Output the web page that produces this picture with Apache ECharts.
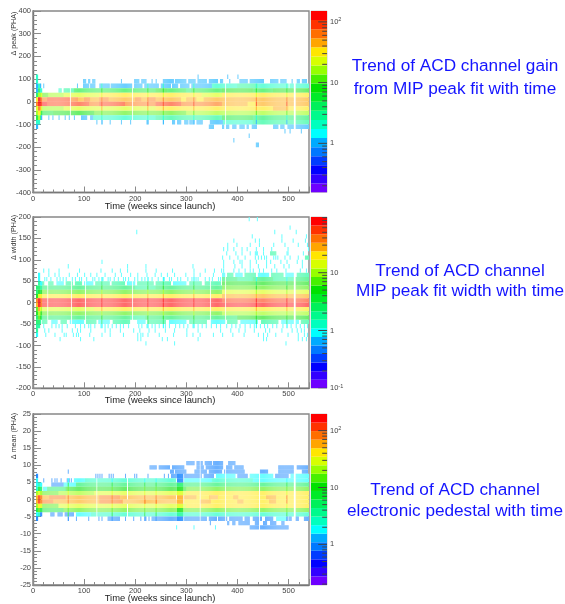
<!DOCTYPE html>
<html>
<head>
<meta charset="utf-8">
<style>html,body{margin:0;padding:0;background:#fff}#c{width:565px;height:604px}</style>
<script src="https://cdn.jsdelivr.net/npm/echarts@6/dist/echarts.min.js"></script>
</head>
<body>
<div id="c"></div>
<script>
// ---------- Axis titles and annotations ----------
const xTitle = 'Time (weeks since launch)';
const yTitles = ['Δ peak (PHA)', 'Δ width (PHA)', 'Δ mean (PHA)'];
const notes = [['Trend of ACD channel gain', 'from MIP peak fit with time'],
               ['Trend of ACD channel', 'MIP peak fit width with time'],
               ['Trend of ACD channel', 'electronic pedestal with time']];
const weekMax = 540;
const palette = ['#6e00ff','#3200ff','#0000ff','#003cff','#0078ff','#00aaff','#00ffff','#00ffbe','#00fa8c','#00f05a',
                 '#00eb28','#00e100','#46f000','#96ff00','#d7ff00','#ffe600','#ffa500','#ff6e00','#ff3200','#ff0000'];

// ---------- Panel 1: delta peak, bins of 20 PHA ----------
// [binLow, [weekFrom, weekTo, count], ...]
const peakRuns = [
 [80,[98,104,1],[108,112,1],[116,122,1],[194,196,1],[198,208,1],[212,222,1],[254,276,1],[278,300,1],[304,318,1],[322,340,1],[344,362,1],[366,372,1],[404,420,1],[424,452,1],[464,480,1],[484,496,1],[516,522,1],[526,536,1]],
 [60,[86,88,1],[98,110,1],[112,122,1],[130,150,1],[152,194,1],[198,214,1],[218,246,1],[250,270,1],[272,284,1],[288,306,1],[310,350,1],[350,400,2],[400,440,3],[440,500,2],[502,510,2],[514,540,2]],
 [40,[50,56,2],[60,80,3],[80,120,6],[120,240,6],[240,262,8],[262,300,6],[300,310,4],[310,370,6],[370,430,8],[430,470,6],[470,540,8]],
 [20,[18,30,11],[30,60,16],[60,130,22],[130,240,32],[240,300,28],[300,330,32],[330,370,22],[370,540,32]],
 [0,[16,28,62],[28,72,90],[72,88,62],[88,100,45],[100,112,62],[112,130,45],[130,148,62],[148,200,45],[200,212,62],[212,224,45],[224,240,62],[240,290,45],[290,300,32],[300,320,45],[320,334,32],[334,540,45]],
 [-20,[16,28,120],[28,110,90],[110,130,62],[130,180,90],[180,240,62],[240,290,90],[290,370,62],[370,420,45],[420,436,32],[436,540,45]],
 [-40,[18,60,16],[60,240,22],[240,370,32],[370,440,38],[440,470,32],[470,500,45],[500,540,32]],
 [-60,[18,40,6],[40,120,8],[120,210,11],[210,300,11],[300,370,16],[370,540,16]],
 [-80,[94,106,1],[112,118,1],[118,170,2],[170,240,2],[240,300,3],[300,370,3],[370,430,6],[430,540,4]],
 [-100,[272,278,1],[282,290,1],[296,304,1],[306,316,1],[320,332,1],[346,372,1],[372,430,2],[430,500,3],[500,540,3]],
 [-120,[344,354,1],[370,374,1],[378,384,1],[390,398,1],[404,414,1],[418,422,1],[428,438,1],[470,480,1],[484,492,1],[498,510,1],[514,540,1]]
];
// [binLow, count, [weeks]]
const peakSingles = [
 [100,1,[322,380,400]], [80,1,[172,232,240,384,506]], [60,1,[20]],
 [-80,1,[30,38,50,62,70,80]], [-100,1,[124,150,172,190,222]],
 [-140,1,[492,502,524]], [-160,1,[422]], [-180,1,[392]], [-200,1,[436,438,440]]
];
const peakStripe = [[60,2],[40,8],[20,22],[0,62],[-20,90],[-40,45],[-60,11],[-80,2],[-100,1]];
const peakEarlyA = [[100,2],[80,2],[60,1],[40,1],[20,4],[0,32],[-20,62],[-40,22],[-60,16],[-80,6],[-100,2],[-120,1]];
const peakEarlyB = [[60,2],[40,4],[20,16],[0,110],[-20,130],[-40,70],[-60,32],[-80,16],[-100,2]];
const peakEarlyC = [[60,1],[40,2],[20,16],[0,90],[-20,120],[-40,45],[-60,16],[-80,4]];
const peakEarlyD = [[40,2],[20,22],[0,62],[-20,90],[-40,22],[-60,6],[-80,1]];
const peakStrong = [[[134,224,254,314,436,496],peakStripe],[[6,8],peakEarlyA],[[10,12],peakEarlyB],[[14],peakEarlyC],[[16],peakEarlyD]];
const peakGaps = [72,194,376,510,512];

// ---------- Panel 2: delta width, bins of 10 PHA ----------
const widthRuns = [
 [100,[532,540,2]],
 [60,[370,376,1],[380,392,2],[396,410,1],[414,436,2],[440,462,1],[466,490,2],[494,512,1],[516,540,2]],
 [50,[370,400,3],[400,430,2],[430,470,3],[470,510,2],[510,540,3]],
 [40,[18,22,2],[28,40,2],[46,60,1],[64,78,2],[82,96,2],[100,118,1],[122,150,2],[154,180,2],[184,200,1],[204,236,2],[240,270,2],[274,300,1],[306,330,2],[336,368,2],[370,540,5]],
 [30,[16,120,3],[120,200,3],[200,240,2],[240,370,3],[370,540,7]],
 [20,[16,370,7],[370,540,14]],
 [10,[16,120,20],[120,370,20],[370,540,28]],
 [0,[16,370,75],[370,540,55]],
 [-10,[16,540,75]],
 [-20,[16,120,14],[120,540,20]],
 [-30,[16,370,7],[370,540,10]],
 [-40,[16,190,3],[190,220,2],[220,400,3],[400,540,5]],
 [-50,[18,30,2],[36,48,1],[54,66,2],[72,100,1],[104,124,2],[128,150,1],[156,190,2],[204,220,1],[226,260,2],[266,300,1],[306,340,2],[346,376,1],[380,400,2],[406,440,1],[446,480,2],[486,520,1],[524,540,2]]
];
const widthSingles = [
 [190,1,[422,438]], [170,1,[502]], [160,1,[202,472,514]], [150,1,[428,486,534]],
 [140,1,[392,434,442,486,508,532]], [130,1,[380,398,424,442,470,492,518,536]],
 [120,1,[372,380,392,408,418,436,450,466,498,538]], [110,1,[378,396,408,424,434,436,438,450,496,498,528]],
 [110,2,[464,466,468,470,472,474]], [100,1,[370,384,400,414,434,440,446,452,456,470,474,478,492,502,512,518]],
 [90,1,[134,372,392,404,408,424,436,456,464,484,496,516,526]],
 [80,1,[68,184,220,312,372,376,394,408,424,440,456,472,490,500,512,526]],
 [70,1,[20,30,50,90,132,154,170,184,220,240,272,314,336,354,368,372,392,402,414,424,430,442,450,466,476,494,510,522,534]],
 [60,1,[30,42,50,70,86,100,112,124,140,160,172,190,204,222,238,250,262,276,298,314,326,346,352]],
 [50,1,[22,26,34,46,52,58,64,76,82,90,94,104,116,120,128,136,146,150,158,166,176,180,186,198,204,212,218,224,232,244,256,266,270,282,288,302,310,318,322,336,344,350,362,366]],
 [-60,1,[20,28,36,44,50,56,66,74,82,92,100,108,112,120,132,140,146,154,162,170,176,186,206,212,222,232,238,246,258,266,278,286,294,302,312,322,330,338,348,358,366,378,388,396,404,414,424,432,444,452,458,468,476,488,496,504,514,522,530,536]],
 [-70,1,[22,30,56,74,76,86,92,112,140,150,170,196,208,226,238,258,276,300,322,346,366,386,402,414,432,454,462,486,506,516,524,530]],
 [-80,1,[24,42,60,64,78,84,88,110,134,150,176,204,210,214,224,246,274,300,312,326,352,370,390,412,440,450,458,474,498,518,530,536]],
 [-90,1,[52,92,118,204,210,252,262,322,450,456,518,526,534]],
 [-100,1,[220,276,494]]
];
const widthStripe = [[50,1],[40,3],[30,5],[20,10],[10,30],[0,80],[-10,80],[-20,28],[-30,10],[-40,5],[-50,3],[-60,1]];
const widthEarlyA = [[30,3],[20,3],[10,5],[0,38],[-10,28],[-20,7],[-30,5],[-40,3],[-50,3],[-60,2],[-70,2],[-80,1]];
const widthEarlyB = [[60,1],[50,1],[40,2],[30,3],[20,5],[10,14],[0,80],[-10,85],[-20,30],[-30,10],[-40,7],[-50,3],[-60,2]];
const widthEarlyC = [[40,1],[30,2],[20,4],[10,20],[0,55],[-10,55],[-20,14],[-30,7],[-40,5],[-50,2]];
const widthEarlyD = [[40,1],[30,2],[20,5],[10,14],[0,38],[-10,38],[-20,10],[-30,5],[-40,3]];
const widthStrong = [[[134,224,254,314,436,496],widthStripe],[[6,8],widthEarlyA],[[10,12],widthEarlyB],[[14],widthEarlyC],[[16],widthEarlyD]];
const widthGaps = [28,74,102,194,346,376,510,512];

// ---------- Panel 3: delta mean, bins of 1.25 PHA ----------
const meanRuns = [
 [10,[300,316,1],[320,332,1],[336,350,1],[352,372,1],[382,396,1]],
 [8.75,[228,242,1],[246,268,1],[272,296,1],[320,334,1],[338,372,1],[376,390,1],[394,412,1],[480,510,1],[516,538,1]],
 [7.5,[268,276,1],[278,300,1],[316,340,1],[344,370,1],[374,414,1],[444,460,1],[480,510,1],[526,538,1]],
 [6.25,[270,282,1],[296,330,1],[334,354,1],[358,396,2],[400,420,1],[424,470,2],[474,500,1],[504,540,2]],
 [5,[80,102,2],[102,160,3],[160,280,3],[296,350,2],[350,430,3],[430,540,2]],
 [3.75,[36,60,1],[60,84,2],[84,300,5],[300,540,5]],
 [2.5,[20,28,2],[28,64,5],[64,150,10],[150,300,10],[300,540,14]],
 [1.25,[18,50,14],[50,120,20],[120,300,28],[300,540,38]],
 [0,[18,32,55],[32,64,75],[64,130,55],[130,170,75],[170,210,55],[210,280,55],[296,320,55],[320,345,38],[345,362,55],[362,392,38],[392,402,55],[402,456,38],[456,476,55],[476,540,38]],
 [-1.25,[18,40,75],[40,130,55],[130,175,75],[175,280,55],[296,326,38],[326,348,55],[348,400,38],[400,412,55],[412,462,38],[462,476,55],[476,540,38]],
 [-2.5,[18,50,14],[50,150,28],[150,300,28],[300,540,38]],
 [-3.75,[18,60,7],[60,150,14],[150,540,14]],
 [-5,[34,42,1],[48,58,1],[62,80,1],[84,114,2],[114,300,3],[296,540,3]],
 [-6.25,[146,170,1],[232,282,1],[296,340,1],[344,360,1],[362,380,1],[384,410,1],[414,424,1],[430,448,1],[454,470,1],[476,496,2],[500,506,1],[512,520,1],[530,540,1]],
 [-7.5,[380,384,1],[390,396,1],[402,424,1],[434,444,1],[450,458,1],[464,476,1],[486,492,1]],
 [-8.75,[424,500,1]]
];
const meanSingles = [
 [7.5,1,[68]],
 [6.25,1,[122,126,130,134,148,152,156,180,184,198,202,224,256,264]],
 [5,1,[20,36,42,46,54,66,70,74]],
 [-6.25,1,[84,108,128,134,180,196,210,220,226]],
 [-7.5,1,[346]],
 [-8.75,2,[280,314,356]]
];
const meanStripe = [[5,2],[3.75,7],[2.5,14],[1.25,28],[0,75],[-1.25,75],[-2.5,28],[-3.75,14],[-5,7],[-6.25,1]];
const meanBlock = [[6.25,1],[5,1],[3.75,5],[2.5,10],[1.25,25],[0,55],[-1.25,55],[-2.5,25],[-3.75,10],[-5,4],[-6.25,1]];
const meanEarlyA = [[6.25,1],[5,2],[3.75,2],[2.5,3],[1.25,20],[0,55],[-1.25,55],[-2.5,20],[-3.75,7],[-5,2],[-6.25,1]];
const meanEarlyB = [[3.75,3],[2.5,7],[1.25,28],[0,105],[-1.25,105],[-2.5,38],[-3.75,14],[-5,3]];
const meanEarlyC = [[3.75,2],[2.5,5],[1.25,20],[0,75],[-1.25,75],[-2.5,28],[-3.75,7],[-5,1]];
const meanStrong = [[[68,154,218,240,496],meanStripe],[[282,284,286,288,290,292],meanBlock],[[6,8],meanEarlyA],[[10,12],meanEarlyB],[[14,16],meanEarlyC]];
const meanGaps = [124,184,326,376,442,510,512];

// ---------- Colour-bar ranges and tick decades ----------
const peakZRange = [0.155, 151], widthZRange = [0.1, 92], meanZRange = [0.193, 196];
const peakDecades = [0, 1, 2], widthDecades = [-1, 0, 1], meanDecades = [0, 1, 2];

// ---------- Panels ----------
const panels = [
 {runs:peakRuns, singles:peakSingles, strong:peakStrong, gaps:peakGaps, bin:20, range:[-400,400], major:100, z:peakZRange, dec:peakDecades, top:11, bottom:192.5, yTitleY:33.5, xTitleY:206},
 {runs:widthRuns, singles:widthSingles, strong:widthStrong, gaps:widthGaps, bin:10, range:[-200,200], major:50, z:widthZRange, dec:widthDecades, top:217, bottom:388.3, yTitleY:237.5, xTitleY:400.7},
 {runs:meanRuns, singles:meanSingles, strong:meanStrong, gaps:meanGaps, bin:1.25, range:[-25,25], major:5, z:meanZRange, dec:meanDecades, top:414, bottom:585, yTitleY:436, xTitleY:598.5}
];
const noteCentres = [[455,66,89],[460,271,291],[455,490,511]];

function buildCells(p){
  const m = new Map();
  const put = (w,y,z,s)=>{ m.set(w+'|'+y,[w,w+2,y,y+p.bin,z,s]); };
  p.runs.forEach(r=>{ const y=r[0]; r.slice(1).forEach(seg=>{ for(let w=seg[0];w<seg[1];w+=2) put(w,y,seg[2],0); }); });
  p.singles.forEach(s=>s[2].forEach(w=>put(w,s[0],s[1],0)));
  p.strong.forEach(c=>c[0].forEach(w=>c[1].forEach(e=>put(w,e[0],e[1],1))));
  return [...m.values()].filter(c=>p.gaps.indexOf(c[0])<0);
}
function mixWhite(hex,k){
  const n=parseInt(hex.slice(1),16), f=v=>Math.round(v+(255-v)*k);
  return 'rgb('+f(n>>16)+','+f((n>>8)&255)+','+f(n&255)+')';
}
function levelOf(z,r){
  const l=Math.floor(20*Math.log(z/r[0])/Math.log(r[1]/r[0]));
  return Math.max(0,Math.min(19,l));
}
function rectItem(api,fill){
  const a=api.coord([api.value(0),api.value(3)]), b=api.coord([api.value(1),api.value(2)]);
  return {type:'rect',shape:{x:a[0],y:a[1],width:b[0]-a[0],height:b[1]-a[1]},style:{fill:fill}};
}
const axisGrey='#8a8a8a', textGrey='#444', fontName='"Liberation Sans", Arial, sans-serif';
const grids=[],xAxes=[],yAxes=[],series=[],graphics=[];
panels.forEach((p,i)=>{
  const h=p.bottom-p.top;
  grids.push({left:33,top:p.top,width:276,height:h,show:true,borderColor:'#888',borderWidth:1.4,backgroundColor:'#fff'});
  xAxes.push({type:'value',gridIndex:grids.length-1,min:0,max:weekMax,interval:100,splitLine:{show:false},
    axisLine:{onZero:false,lineStyle:{color:'#777',width:1.4}},axisTick:{inside:true,length:6,lineStyle:{color:axisGrey}},
    minorTick:{show:true,splitNumber:5,length:3,lineStyle:{color:axisGrey}},
    axisLabel:{fontSize:7.5,color:textGrey,margin:2,fontFamily:fontName,showMaxLabel:false}});
  yAxes.push({type:'value',gridIndex:grids.length-1,min:p.range[0],max:p.range[1],interval:p.major,splitLine:{show:false},
    axisLine:{onZero:false,lineStyle:{color:'#777',width:1.4}},axisTick:{inside:true,length:8,lineStyle:{color:axisGrey}},
    minorTick:{show:true,splitNumber:5,length:4,lineStyle:{color:axisGrey}},
    axisLabel:{fontSize:7.5,color:textGrey,margin:2,fontFamily:fontName}});
  series.push({type:'custom',name:yTitles[i],coordinateSystem:'cartesian2d',xAxisIndex:xAxes.length-1,yAxisIndex:yAxes.length-1,
    data:buildCells(p),clip:true,progressive:0,silent:true,encode:{x:[0,1],y:[2,3]},
    renderItem:(params,api)=>{
      const col=palette[levelOf(api.value(4),p.z)];
      return rectItem(api,api.value(5)?mixWhite(col,0.1):mixWhite(col,0.42));
    }});
  // colour bar (log10 space)
  const lo=Math.log10(p.z[0]), hi=Math.log10(p.z[1]);
  grids.push({left:311,top:p.top,width:16,height:h,show:true,borderColor:'#ccc',borderWidth:1});
  xAxes.push({type:'value',gridIndex:grids.length-1,min:0,max:1,show:false});
  yAxes.push({type:'value',gridIndex:grids.length-1,position:'right',min:lo,max:hi,splitLine:{show:false},
    axisLine:{show:false},axisTick:{show:false},
    axisLabel:{customValues:p.dec,margin:3,fontSize:7.5,color:textGrey,fontFamily:fontName,
      formatter:v=>v===0?'1':v===1?'10':'10{s|'+v+'}',
      rich:{s:{fontSize:5.5,verticalAlign:'top',padding:[0,0,4,0],color:textGrey,fontFamily:fontName}}}});
  const barX=xAxes.length-1, barY=yAxes.length-1;
  const ticks=[];
  for(let d=Math.floor(lo);d<Math.ceil(hi);d++){ for(let k=1;k<10;k++){ const v=d+Math.log10(k); if(v>=lo&&v<=hi) ticks.push([v,k===1?0.55:0.3]); } }
  if(p.dec.indexOf(Math.ceil(hi))>=0) ticks.push([Math.ceil(hi),0.55]);
  const lv=palette.map((c,k)=>[0,1,lo+k*(hi-lo)/20,lo+(k+1)*(hi-lo)/20,k]);
  series.push({type:'custom',coordinateSystem:'cartesian2d',xAxisIndex:barX,yAxisIndex:barY,data:lv,silent:true,clip:true,
    z:2,encode:{x:[0,1],y:[2,3]},renderItem:(params,api)=>rectItem(api,palette[api.value(4)])});
  series.push({type:'custom',coordinateSystem:'cartesian2d',xAxisIndex:barX,yAxisIndex:barY,data:ticks,silent:true,clip:true,
    z:3,encode:{x:1,y:0},renderItem:(params,api)=>{
      const a=api.coord([1,api.value(0)]), b=api.coord([1-api.value(1),api.value(0)]);
      return {type:'line',shape:{x1:a[0],y1:a[1],x2:b[0],y2:b[1]},style:{stroke:'#444',lineWidth:1}};
    }});
  // titles
  graphics.push({type:'text',x:14,y:p.yTitleY,rotation:Math.PI/2,style:{text:yTitles[i],fill:'#333',font:'7.2px '+fontName,textAlign:'center',textVerticalAlign:'middle'}});
  graphics.push({type:'text',x:160,y:p.xTitleY,style:{text:xTitle,fill:'#222',font:'9.4px '+fontName,textAlign:'center',textVerticalAlign:'middle'}});
  const nc=noteCentres[i];
  notes[i].forEach((t,j)=>graphics.push({type:'text',x:nc[0],y:nc[j+1],style:{text:t,fill:'#1414ff',font:'17.2px '+fontName,textAlign:'center',textVerticalAlign:'middle'}}));
});
const chart=echarts.init(document.getElementById('c'),null,{renderer:'canvas',width:565,height:604});
chart.setOption({animation:false,backgroundColor:'#fff',grid:grids,xAxis:xAxes,yAxis:yAxes,series:series,graphic:{elements:graphics}});
</script>
</body>
</html>
